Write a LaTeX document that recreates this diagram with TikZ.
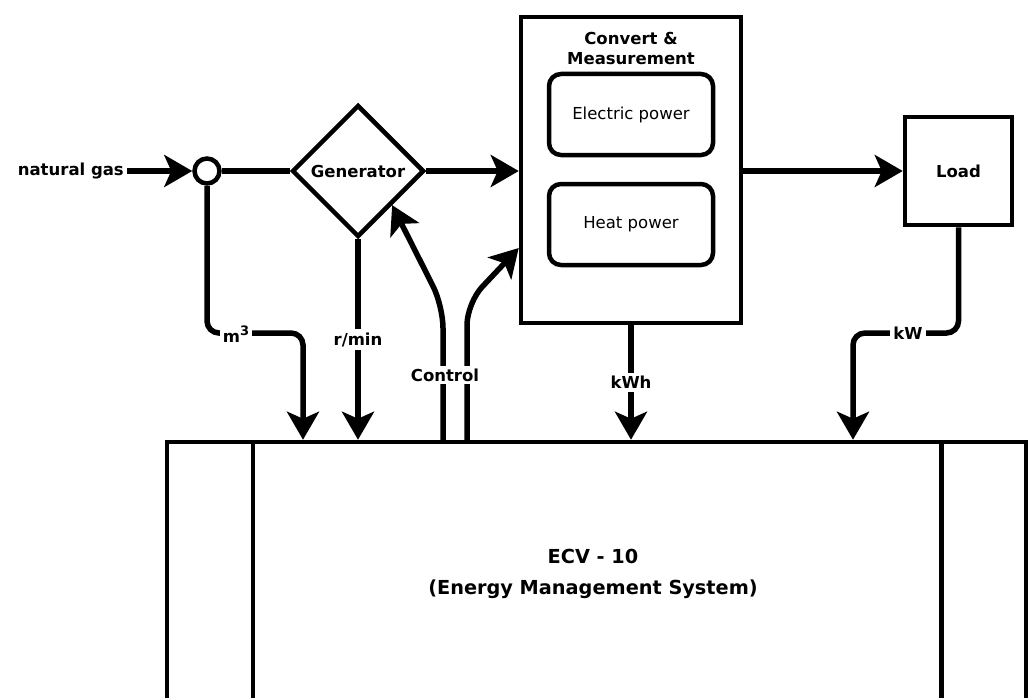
\documentclass[tikz,border=0pt]{standalone}
\usepackage{fontspec}
\setmainfont{DejaVu Sans}
\usetikzlibrary{shapes.geometric,arrows.meta}

\tikzset{
  lbl/.style={font=\bfseries\fontsize{16.5}{20}\selectfont, inner sep=3pt},
  tag/.style={lbl, fill=white},
  blk/.style={draw, line width=4.5pt, inner sep=0pt},
  subbox/.style={blk, rounded corners=12pt, minimum width=164pt, minimum height=81pt, font=\fontsize{16.5}{20}\selectfont},
  wire/.style={line width=5.5pt},
  flow/.style={wire, -{Stealth[length=28pt,width=32pt,inset=7pt]}}
}

\begin{document}
\begin{tikzpicture}[x=1pt,y=-1pt]
\useasboundingbox (0,0) rectangle (1030,698);
\clip (0,0) rectangle (1030,698);

% blocks
\node[lbl, anchor=east] (gas) at (127,171) {natural gas};
\node[blk, circle, minimum size=25pt] (mix) at (207,171) {};
\node[blk, diamond, minimum width=132pt, minimum height=132pt, lbl] (gen) at (358,171) {Generator};
\node[blk, minimum width=220pt, minimum height=306pt] (conv) at (631,170) {};
\node[lbl, align=center] (title) at (631,48) {Convert \&\\Measurement};
\node[subbox] (elec) at (631,114.5) {Electric power};
\node[subbox] (heat) at (631,224.5) {Heat power};
\node[blk, minimum width=107pt, minimum height=108pt, lbl] (load) at (958.5,171) {Load};

\node[blk, minimum width=859pt, minimum height=400pt] (ecv) at (596.5,642) {};
\draw[line width=4.5pt] ([xshift=88pt]ecv.north west) -- ([xshift=88pt]ecv.south west);
\draw[line width=4.5pt] ([xshift=-87pt]ecv.north east) -- ([xshift=-87pt]ecv.south east);
\node[font=\bfseries\fontsize{19.3}{31}\selectfont, align=center] (ecvtxt) at (593,574) {ECV - 10\\(Energy Management System)};

% bend points
\coordinate (m3in) at (303,333);
\coordinate (kwin) at (853,333);
\coordinate (ctlA) at (443,306);
\coordinate (ctlB) at (467,303);

% main line
\draw[flow] (gas) -- (mix);
\draw[wire] (mix) -- (gen);
\draw[flow] (gen.east) -- (gen.east -| conv.west);
\draw[flow] (conv.east |- load.west) -- (load.west);

% measurements
\draw[flow, rounded corners=12pt] (mix.south) |- (m3in) -- (m3in |- ecv.north);
\draw[flow] (gen.south) -- (gen.south |- ecv.north) node[tag, midway] {r/min};
\draw[flow] (conv.south) -- (conv.south |- ecv.north) node[tag, midway] {kWh};
\draw[flow, rounded corners=12pt] (load.south) |- (kwin) -- (kwin |- ecv.north);

% control
\draw[flow, rounded corners=22pt] (ctlA |- ecv.north) -- (ctlA) -- (gen.south east);
\draw[flow, rounded corners=22pt] (ctlB |- ecv.north) -- (ctlB) -- ([yshift=-78pt]conv.west);

\node[tag] (m3) at (236,334) {m\raisebox{0.45em}{\fontsize{13}{13}\selectfont 3}};
\node[tag] (kw) at (908,333) {kW};
\node[tag] (ctl) at (445,375) {Control};
\end{tikzpicture}
\end{document}
